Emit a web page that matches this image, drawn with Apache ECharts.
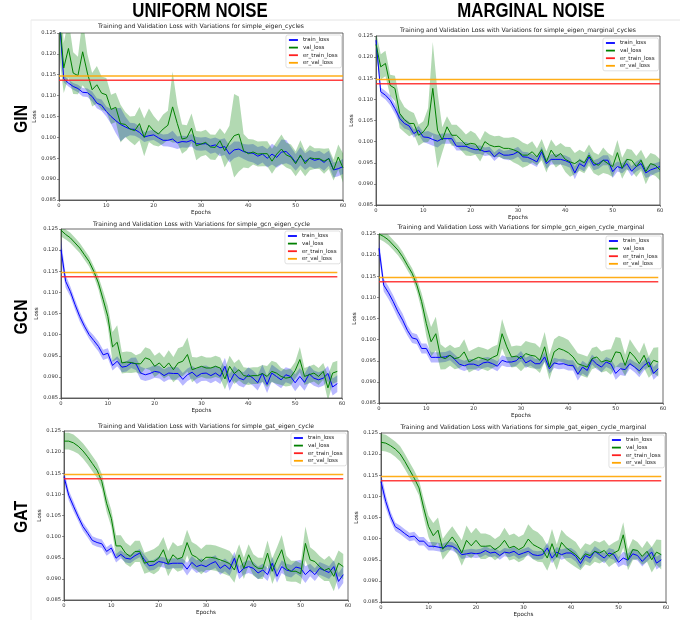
<!DOCTYPE html>
<html>
<head>
<meta charset="utf-8">
<script src="https://cdn.jsdelivr.net/npm/echarts@6/dist/echarts.min.js"></script>
<style>html,body{margin:0;background:#fff}#c{width:688px;height:620px}</style>
</head>
<body>
<div id="c"></div>
<script>
// ---------- data (mean loss and std band per epoch) ----------
const gin_uni_train = [
  0.1300, 0.1140, 0.1130, 0.1122, 0.1117, 0.1108, 0.1107, 0.1098, 0.1082, 0.1077,
  0.1062, 0.1050, 0.1040, 0.1031, 0.1025, 0.1020, 0.1019, 0.1012, 0.1001, 0.1004,
  0.1006, 0.0999, 0.0993, 0.0993, 0.0996, 0.0987, 0.0990, 0.0989, 0.0993, 0.0985,
  0.0984, 0.0985, 0.0979, 0.0982, 0.0975, 0.0978, 0.0960, 0.0970, 0.0972, 0.0966,
  0.0963, 0.0962, 0.0955, 0.0960, 0.0950, 0.0960, 0.0952, 0.0965, 0.0966, 0.0955,
  0.0940, 0.0955, 0.0942, 0.0950, 0.0945, 0.0948, 0.0940, 0.0950, 0.0922, 0.0925,
  0.0930];
const gin_uni_train_sd = [
  0.0030, 0.0008, 0.0008, 0.0008, 0.0009, 0.0010, 0.0010, 0.0012, 0.0012, 0.0014,
  0.0012, 0.0018, 0.0030, 0.0040, 0.0025, 0.0015, 0.0015, 0.0014, 0.0012, 0.0012,
  0.0012, 0.0012, 0.0014, 0.0015, 0.0020, 0.0015, 0.0014, 0.0014, 0.0015, 0.0016,
  0.0016, 0.0016, 0.0018, 0.0018, 0.0020, 0.0020, 0.0020, 0.0020, 0.0018, 0.0018,
  0.0020, 0.0022, 0.0022, 0.0020, 0.0022, 0.0025, 0.0025, 0.0030, 0.0028, 0.0022,
  0.0020, 0.0022, 0.0020, 0.0020, 0.0020, 0.0020, 0.0020, 0.0018, 0.0018, 0.0018,
  0.0018];
const gin_uni_val = [
  0.1300, 0.1166, 0.1213, 0.1154, 0.1148, 0.1205, 0.1154, 0.1114, 0.1126, 0.1106,
  0.1102, 0.1067, 0.1072, 0.1033, 0.1031, 0.1020, 0.1016, 0.1033, 0.1000, 0.1029,
  0.1016, 0.1008, 0.1020, 0.1029, 0.1073, 0.1033, 0.0996, 0.0999, 0.1022, 0.0980,
  0.0984, 0.0988, 0.0977, 0.0976, 0.0992, 0.0968, 0.0988, 0.1004, 0.1008, 0.0968,
  0.0961, 0.0965, 0.0960, 0.0961, 0.0961, 0.0943, 0.0960, 0.0972, 0.0958, 0.0953,
  0.0937, 0.0958, 0.0937, 0.0951, 0.0949, 0.0949, 0.0943, 0.0949, 0.0922, 0.0953,
  0.0927];
const gin_uni_val_sd = [
  0.0100, 0.0060, 0.0070, 0.0050, 0.0045, 0.0080, 0.0045, 0.0040, 0.0045, 0.0040,
  0.0040, 0.0035, 0.0035, 0.0045, 0.0030, 0.0030, 0.0035, 0.0040, 0.0045, 0.0040,
  0.0035, 0.0030, 0.0035, 0.0035, 0.0085, 0.0045, 0.0035, 0.0030, 0.0035, 0.0035,
  0.0030, 0.0030, 0.0030, 0.0030, 0.0030, 0.0040, 0.0040, 0.0100, 0.0090, 0.0040,
  0.0035, 0.0030, 0.0030, 0.0030, 0.0030, 0.0030, 0.0030, 0.0035, 0.0030, 0.0030,
  0.0030, 0.0035, 0.0030, 0.0030, 0.0025, 0.0025, 0.0030, 0.0025, 0.0025, 0.0030,
  0.0035];

const gin_mar_train = [
  0.1240, 0.1118, 0.1110, 0.1098, 0.1078, 0.1055, 0.1043, 0.1037, 0.1019, 0.1027,
  0.1011, 0.1010, 0.1005, 0.1001, 0.1007, 0.1007, 0.1007, 0.0989, 0.0989, 0.0989,
  0.0984, 0.0981, 0.0981, 0.0976, 0.0978, 0.0964, 0.0974, 0.0968, 0.0968, 0.0970,
  0.0976, 0.0964, 0.0963, 0.0958, 0.0952, 0.0976, 0.0948, 0.0958, 0.0958, 0.0958,
  0.0955, 0.0950, 0.0926, 0.0948, 0.0941, 0.0964, 0.0944, 0.0948, 0.0956, 0.0956,
  0.0929, 0.0941, 0.0937, 0.0948, 0.0930, 0.0941, 0.0948, 0.0926, 0.0933, 0.0937,
  0.0941];
const gin_mar_train_sd = [
  0.0015, 0.0010, 0.0010, 0.0012, 0.0012, 0.0012, 0.0012, 0.0010, 0.0010, 0.0010,
  0.0012, 0.0015, 0.0015, 0.0015, 0.0012, 0.0012, 0.0012, 0.0010, 0.0010, 0.0010,
  0.0010, 0.0010, 0.0010, 0.0010, 0.0010, 0.0010, 0.0010, 0.0010, 0.0012, 0.0012,
  0.0012, 0.0012, 0.0012, 0.0012, 0.0012, 0.0012, 0.0012, 0.0012, 0.0012, 0.0012,
  0.0012, 0.0012, 0.0015, 0.0012, 0.0012, 0.0012, 0.0012, 0.0012, 0.0012, 0.0012,
  0.0015, 0.0012, 0.0012, 0.0012, 0.0012, 0.0012, 0.0012, 0.0012, 0.0015, 0.0012,
  0.0012];
const gin_mar_val = [
  0.1230, 0.1177, 0.1185, 0.1133, 0.1126, 0.1067, 0.1052, 0.1043, 0.1043, 0.1015,
  0.1023, 0.1039, 0.1126, 0.1027, 0.1004, 0.1035, 0.1015, 0.1015, 0.1004, 0.0992,
  0.0996, 0.0994, 0.0978, 0.1000, 0.0992, 0.0988, 0.0989, 0.0984, 0.0984, 0.0981,
  0.0976, 0.0968, 0.0968, 0.0976, 0.0964, 0.0981, 0.0952, 0.0980, 0.0964, 0.0972,
  0.0958, 0.0952, 0.0948, 0.0956, 0.0950, 0.0968, 0.0950, 0.0944, 0.0956, 0.0948,
  0.0941, 0.0974, 0.0937, 0.0958, 0.0956, 0.0941, 0.0956, 0.0929, 0.0948, 0.0944,
  0.0933];
const gin_mar_val_sd = [
  0.0030, 0.0030, 0.0030, 0.0025, 0.0030, 0.0035, 0.0030, 0.0030, 0.0025, 0.0025,
  0.0025, 0.0040, 0.0110, 0.0090, 0.0030, 0.0025, 0.0025, 0.0025, 0.0025, 0.0025,
  0.0030, 0.0025, 0.0025, 0.0025, 0.0025, 0.0025, 0.0025, 0.0025, 0.0025, 0.0030,
  0.0030, 0.0030, 0.0025, 0.0025, 0.0020, 0.0025, 0.0025, 0.0025, 0.0025, 0.0025,
  0.0030, 0.0035, 0.0025, 0.0025, 0.0025, 0.0025, 0.0025, 0.0025, 0.0030, 0.0025,
  0.0025, 0.0030, 0.0025, 0.0025, 0.0025, 0.0025, 0.0025, 0.0030, 0.0025, 0.0025,
  0.0025];

const gcn_uni_train = [
  0.1201, 0.1126, 0.1102, 0.1071, 0.1043, 0.1020, 0.1000, 0.0986, 0.0972, 0.0952,
  0.0956, 0.0927, 0.0937, 0.0923, 0.0925, 0.0933, 0.0931, 0.0909, 0.0905, 0.0908,
  0.0913, 0.0911, 0.0903, 0.0909, 0.0908, 0.0908, 0.0894, 0.0905, 0.0911, 0.0901,
  0.0908, 0.0909, 0.0903, 0.0909, 0.0901, 0.0925, 0.0887, 0.0908, 0.0897, 0.0893,
  0.0905, 0.0897, 0.0886, 0.0909, 0.0882, 0.0909, 0.0901, 0.0893, 0.0905, 0.0901,
  0.0886, 0.0901, 0.0887, 0.0907, 0.0897, 0.0893, 0.0897, 0.0908, 0.0876, 0.0884];
const gcn_uni_train_sd = [
  0.0025, 0.0015, 0.0012, 0.0012, 0.0012, 0.0010, 0.0010, 0.0012, 0.0012, 0.0012,
  0.0012, 0.0012, 0.0012, 0.0012, 0.0012, 0.0012, 0.0015, 0.0015, 0.0015, 0.0015,
  0.0015, 0.0015, 0.0015, 0.0015, 0.0015, 0.0015, 0.0015, 0.0015, 0.0015, 0.0018,
  0.0018, 0.0018, 0.0018, 0.0018, 0.0018, 0.0020, 0.0020, 0.0018, 0.0018, 0.0018,
  0.0018, 0.0018, 0.0018, 0.0020, 0.0020, 0.0020, 0.0020, 0.0020, 0.0018, 0.0018,
  0.0020, 0.0020, 0.0020, 0.0020, 0.0018, 0.0018, 0.0018, 0.0018, 0.0020, 0.0020];
const gcn_uni_val = [
  0.1247, 0.1237, 0.1229, 0.1217, 0.1205, 0.1189, 0.1173, 0.1150, 0.1122, 0.1083,
  0.1043, 0.0971, 0.0982, 0.0933, 0.0935, 0.0934, 0.0931, 0.0931, 0.0945, 0.0941,
  0.0925, 0.0933, 0.0921, 0.0933, 0.0917, 0.0933, 0.0937, 0.0953, 0.0917, 0.0921,
  0.0925, 0.0921, 0.0921, 0.0925, 0.0921, 0.0895, 0.0925, 0.0908, 0.0917, 0.0903,
  0.0901, 0.0903, 0.0903, 0.0908, 0.0901, 0.0913, 0.0909, 0.0901, 0.0897, 0.0899,
  0.0915, 0.0941, 0.0901, 0.0905, 0.0909, 0.0901, 0.0913, 0.0874, 0.0909, 0.0913];
const gcn_uni_val_sd = [
  0.0015, 0.0012, 0.0012, 0.0012, 0.0012, 0.0012, 0.0012, 0.0012, 0.0015, 0.0020,
  0.0025, 0.0035, 0.0040, 0.0025, 0.0025, 0.0025, 0.0020, 0.0025, 0.0025, 0.0025,
  0.0025, 0.0025, 0.0025, 0.0030, 0.0030, 0.0035, 0.0035, 0.0040, 0.0030, 0.0025,
  0.0025, 0.0025, 0.0025, 0.0025, 0.0025, 0.0025, 0.0025, 0.0025, 0.0025, 0.0020,
  0.0020, 0.0020, 0.0020, 0.0020, 0.0025, 0.0025, 0.0025, 0.0020, 0.0020, 0.0020,
  0.0020, 0.0030, 0.0020, 0.0020, 0.0020, 0.0020, 0.0020, 0.0030, 0.0025, 0.0025];

const gcn_mar_train = [
  0.1216, 0.1129, 0.1111, 0.1090, 0.1066, 0.1046, 0.1022, 0.1004, 0.1001, 0.0979,
  0.0979, 0.0958, 0.0958, 0.0958, 0.0959, 0.0963, 0.0953, 0.0942, 0.0938, 0.0942,
  0.0942, 0.0938, 0.0945, 0.0947, 0.0943, 0.0937, 0.0951, 0.0947, 0.0947, 0.0950,
  0.0961, 0.0945, 0.0951, 0.0943, 0.0943, 0.0959, 0.0931, 0.0945, 0.0942, 0.0943,
  0.0939, 0.0939, 0.0918, 0.0935, 0.0927, 0.0953, 0.0942, 0.0935, 0.0947, 0.0942,
  0.0920, 0.0931, 0.0929, 0.0943, 0.0935, 0.0926, 0.0939, 0.0947, 0.0920, 0.0931];
const gcn_mar_train_sd = [
  0.0020, 0.0015, 0.0015, 0.0015, 0.0015, 0.0015, 0.0012, 0.0012, 0.0012, 0.0012,
  0.0012, 0.0012, 0.0012, 0.0012, 0.0012, 0.0012, 0.0012, 0.0012, 0.0012, 0.0012,
  0.0012, 0.0012, 0.0012, 0.0012, 0.0012, 0.0012, 0.0012, 0.0012, 0.0012, 0.0012,
  0.0012, 0.0012, 0.0012, 0.0012, 0.0012, 0.0012, 0.0012, 0.0012, 0.0012, 0.0012,
  0.0012, 0.0012, 0.0015, 0.0015, 0.0015, 0.0012, 0.0012, 0.0012, 0.0012, 0.0012,
  0.0015, 0.0015, 0.0015, 0.0012, 0.0012, 0.0015, 0.0012, 0.0012, 0.0015, 0.0015];
const gcn_mar_val = [
  0.1250, 0.1244, 0.1236, 0.1224, 0.1212, 0.1196, 0.1176, 0.1157, 0.1129, 0.1090,
  0.1038, 0.0995, 0.1014, 0.0959, 0.0955, 0.0963, 0.0955, 0.0958, 0.0971, 0.0947,
  0.0953, 0.0958, 0.0955, 0.0951, 0.0958, 0.0963, 0.1014, 0.0983, 0.0959, 0.0961,
  0.0955, 0.0967, 0.0963, 0.0961, 0.0951, 0.0983, 0.0935, 0.0971, 0.0979, 0.0975,
  0.0969, 0.0959, 0.0943, 0.0939, 0.0935, 0.0955, 0.0959, 0.0947, 0.0951, 0.0947,
  0.0971, 0.0969, 0.0939, 0.0971, 0.0959, 0.0943, 0.0963, 0.0935, 0.0951, 0.0947];
const gcn_mar_val_sd = [
  0.0012, 0.0012, 0.0012, 0.0012, 0.0012, 0.0012, 0.0012, 0.0012, 0.0015, 0.0020,
  0.0030, 0.0035, 0.0040, 0.0030, 0.0025, 0.0025, 0.0025, 0.0025, 0.0030, 0.0025,
  0.0025, 0.0025, 0.0025, 0.0025, 0.0025, 0.0025, 0.0035, 0.0030, 0.0025, 0.0025,
  0.0030, 0.0030, 0.0030, 0.0030, 0.0030, 0.0035, 0.0030, 0.0030, 0.0030, 0.0030,
  0.0030, 0.0025, 0.0025, 0.0025, 0.0025, 0.0025, 0.0025, 0.0025, 0.0025, 0.0030,
  0.0035, 0.0035, 0.0025, 0.0030, 0.0025, 0.0025, 0.0030, 0.0025, 0.0030, 0.0035];

const gat_uni_train = [
  0.1142, 0.1098, 0.1072, 0.1047, 0.1024, 0.1008, 0.0991, 0.0986, 0.0983, 0.0965,
  0.0973, 0.0949, 0.0958, 0.0949, 0.0947, 0.0955, 0.0961, 0.0945, 0.0931, 0.0933,
  0.0941, 0.0939, 0.0935, 0.0937, 0.0937, 0.0937, 0.0923, 0.0939, 0.0929, 0.0933,
  0.0929, 0.0936, 0.0941, 0.0925, 0.0933, 0.0923, 0.0949, 0.0914, 0.0925, 0.0929,
  0.0925, 0.0914, 0.0921, 0.0910, 0.0937, 0.0906, 0.0929, 0.0921, 0.0918, 0.0928,
  0.0925, 0.0910, 0.0921, 0.0910, 0.0925, 0.0920, 0.0915, 0.0929, 0.0894, 0.0910];
const gat_uni_train_sd = [
  0.0015, 0.0012, 0.0012, 0.0010, 0.0010, 0.0010, 0.0010, 0.0010, 0.0010, 0.0010,
  0.0010, 0.0010, 0.0010, 0.0010, 0.0010, 0.0010, 0.0010, 0.0012, 0.0012, 0.0012,
  0.0012, 0.0012, 0.0012, 0.0012, 0.0012, 0.0012, 0.0015, 0.0015, 0.0015, 0.0015,
  0.0015, 0.0015, 0.0015, 0.0015, 0.0015, 0.0015, 0.0015, 0.0015, 0.0015, 0.0015,
  0.0015, 0.0015, 0.0015, 0.0015, 0.0015, 0.0015, 0.0015, 0.0015, 0.0015, 0.0015,
  0.0020, 0.0020, 0.0015, 0.0015, 0.0015, 0.0015, 0.0015, 0.0015, 0.0020, 0.0020];
const gat_uni_val = [
  0.1226, 0.1226, 0.1222, 0.1214, 0.1203, 0.1189, 0.1173, 0.1157, 0.1130, 0.1079,
  0.1043, 0.0978, 0.0978, 0.0961, 0.0953, 0.0965, 0.0965, 0.0937, 0.0941, 0.0941,
  0.0949, 0.0969, 0.0936, 0.0957, 0.0947, 0.0951, 0.0986, 0.0957, 0.0951, 0.0941,
  0.0951, 0.0951, 0.0949, 0.0945, 0.0941, 0.0936, 0.0921, 0.0957, 0.0925, 0.0957,
  0.0933, 0.0925, 0.0925, 0.0961, 0.0918, 0.0945, 0.0969, 0.0925, 0.0918, 0.0918,
  0.0912, 0.0984, 0.0945, 0.0941, 0.0929, 0.0920, 0.0925, 0.0906, 0.0937, 0.0929];
const gat_uni_val_sd = [
  0.0020, 0.0020, 0.0020, 0.0018, 0.0018, 0.0018, 0.0018, 0.0018, 0.0018, 0.0020,
  0.0020, 0.0025, 0.0025, 0.0025, 0.0025, 0.0025, 0.0025, 0.0025, 0.0025, 0.0030,
  0.0030, 0.0030, 0.0030, 0.0030, 0.0030, 0.0030, 0.0030, 0.0030, 0.0030, 0.0030,
  0.0030, 0.0030, 0.0030, 0.0030, 0.0030, 0.0030, 0.0030, 0.0025, 0.0025, 0.0025,
  0.0025, 0.0025, 0.0025, 0.0030, 0.0030, 0.0030, 0.0035, 0.0030, 0.0025, 0.0025,
  0.0025, 0.0040, 0.0030, 0.0025, 0.0025, 0.0025, 0.0030, 0.0035, 0.0030, 0.0030];

const gat_mar_train = [
  0.1135, 0.1088, 0.1053, 0.1028, 0.1021, 0.1012, 0.1004, 0.1006, 0.0994, 0.0994,
  0.0982, 0.0982, 0.0980, 0.0978, 0.0983, 0.0982, 0.0975, 0.0962, 0.0964, 0.0966,
  0.0964, 0.0966, 0.0972, 0.0966, 0.0968, 0.0960, 0.0968, 0.0966, 0.0970, 0.0962,
  0.0966, 0.0970, 0.0962, 0.0960, 0.0962, 0.0978, 0.0954, 0.0968, 0.0962, 0.0966,
  0.0966, 0.0958, 0.0941, 0.0960, 0.0954, 0.0970, 0.0962, 0.0954, 0.0966, 0.0962,
  0.0944, 0.0954, 0.0949, 0.0964, 0.0960, 0.0946, 0.0958, 0.0968, 0.0942, 0.0950];
const gat_mar_train_sd = [
  0.0020, 0.0015, 0.0012, 0.0010, 0.0010, 0.0010, 0.0010, 0.0010, 0.0010, 0.0010,
  0.0010, 0.0010, 0.0010, 0.0010, 0.0010, 0.0010, 0.0010, 0.0010, 0.0010, 0.0010,
  0.0010, 0.0010, 0.0010, 0.0010, 0.0010, 0.0010, 0.0010, 0.0010, 0.0010, 0.0010,
  0.0010, 0.0010, 0.0010, 0.0010, 0.0010, 0.0012, 0.0012, 0.0012, 0.0012, 0.0012,
  0.0012, 0.0012, 0.0012, 0.0012, 0.0012, 0.0012, 0.0012, 0.0012, 0.0012, 0.0012,
  0.0012, 0.0015, 0.0015, 0.0012, 0.0012, 0.0012, 0.0012, 0.0012, 0.0015, 0.0015];
const gat_mar_val = [
  0.1228, 0.1226, 0.1220, 0.1212, 0.1201, 0.1183, 0.1163, 0.1143, 0.1120, 0.1072,
  0.1029, 0.1007, 0.1020, 0.0975, 0.0990, 0.1004, 0.0988, 0.0966, 0.0996, 0.0983,
  0.0996, 0.0982, 0.0982, 0.0983, 0.0974, 0.0982, 0.0996, 0.0978, 0.0982, 0.0974,
  0.0980, 0.0999, 0.0986, 0.0980, 0.0974, 0.0954, 0.0988, 0.0956, 0.0991, 0.0978,
  0.0970, 0.0962, 0.0950, 0.0964, 0.0960, 0.0970, 0.0966, 0.0972, 0.0958, 0.0966,
  0.0972, 0.1009, 0.0950, 0.0974, 0.0972, 0.0958, 0.0970, 0.0950, 0.0968, 0.0962];
const gat_mar_val_sd = [
  0.0020, 0.0020, 0.0018, 0.0018, 0.0018, 0.0018, 0.0018, 0.0018, 0.0018, 0.0022,
  0.0025, 0.0030, 0.0030, 0.0025, 0.0025, 0.0025, 0.0025, 0.0030, 0.0035, 0.0030,
  0.0030, 0.0030, 0.0030, 0.0025, 0.0025, 0.0025, 0.0030, 0.0030, 0.0030, 0.0030,
  0.0030, 0.0035, 0.0035, 0.0035, 0.0030, 0.0030, 0.0035, 0.0030, 0.0030, 0.0030,
  0.0030, 0.0030, 0.0025, 0.0025, 0.0025, 0.0025, 0.0025, 0.0025, 0.0025, 0.0025,
  0.0025, 0.0030, 0.0025, 0.0025, 0.0020, 0.0020, 0.0025, 0.0030, 0.0030, 0.0035];

// er baselines, same in every panel
const er_train_loss = [0.1137, 0.1137, 0.1137, 0.1137, 0.1137, 0.1137];
const er_val_loss   = [0.1147, 0.1147, 0.1147, 0.1147, 0.1147, 0.1147];

const titles = [
  "Training and Validation Loss with Variations for simple_eigen_cycles",
  "Training and Validation Loss with Variations for simple_eigen_marginal_cycles",
  "Training and Validation Loss with Variations for simple_gcn_eigen_cycle",
  "Training and Validation Loss with Variations for simple_gcn_eigen_cycle_marginal",
  "Training and Validation Loss with Variations for simple_gat_eigen_cycle",
  "Training and Validation Loss with Variations for simple_gat_eigen_cycle_marginal",
];
const colHeaders = ["UNIFORM NOISE", "MARGINAL NOISE"];
const rowHeaders = ["GIN", "GCN", "GAT"];
const yTicks = { min: 0.085, max: 0.125, step: 0.005 };

// ---------- layout ----------
const W = 688, H = 620;
const panels = [
  { train: gin_uni_train, trainSd: gin_uni_train_sd, val: gin_uni_val, valSd: gin_uni_val_sd, box: [59, 33, 284, 167], titleY: 26 },
  { train: gin_mar_train, trainSd: gin_mar_train_sd, val: gin_mar_val, valSd: gin_mar_val_sd, box: [376, 36, 284, 169], titleY: 30 },
  { train: gcn_uni_train, trainSd: gcn_uni_train_sd, val: gcn_uni_val, valSd: gcn_uni_val_sd, box: [61, 229, 281, 169], titleY: 224 },
  { train: gcn_mar_train, trainSd: gcn_mar_train_sd, val: gcn_mar_val, valSd: gcn_mar_val_sd, box: [379, 234, 284, 169], titleY: 227 },
  { train: gat_uni_train, trainSd: gat_uni_train_sd, val: gat_uni_val, valSd: gat_uni_val_sd, box: [64, 431, 284, 169], titleY: 426 },
  { train: gat_mar_train, trainSd: gat_mar_train_sd, val: gat_mar_val, valSd: gat_mar_val_sd, box: [381, 433, 285, 169], titleY: 427 },
];

const FONT = "DejaVu Sans";
const BLUE = "#0000ff", GREEN = "#008000", RED = "#ff2020", ORANGE = "#ffa500";

const grids = [], xAxes = [], yAxes = [], legends = [], series = [], graphics = [];

panels.forEach((p, i) => {
  const [l, t, w, h] = p.box;
  grids.push({ left: l, top: t, width: w, height: h, show: true, borderColor: "#444", borderWidth: 0.8,
    backgroundColor: "transparent", containLabel: false, outerBoundsMode: "none" });
  xAxes.push({
    gridIndex: i, type: "value", min: 0, max: 60, interval: 10,
    name: "Epochs", nameLocation: "middle", nameGap: 10,
    nameTextStyle: { fontSize: 5.6, color: "#222", fontFamily: FONT },
    axisLine: { show: true, onZero: false, lineStyle: { color: "#444", width: 0.8 } },
    axisTick: { show: true, length: 2, lineStyle: { color: "#444", width: 0.6 } },
    axisLabel: { fontSize: 5.2, color: "#333", margin: 3, fontFamily: FONT },
    splitLine: { show: false },
  });
  yAxes.push({
    gridIndex: i, type: "value", min: yTicks.min, max: yTicks.max, interval: yTicks.step,
    name: "Loss", nameLocation: "middle", nameGap: 21, nameRotate: 90,
    nameTextStyle: { fontSize: 5.6, color: "#222", fontFamily: FONT },
    axisLine: { show: true, onZero: false, lineStyle: { color: "#444", width: 0.8 } },
    axisTick: { show: true, length: 2, lineStyle: { color: "#444", width: 0.6 } },
    axisLabel: { fontSize: 5.2, color: "#333", margin: 3, fontFamily: FONT, formatter: v => v.toFixed(3) },
    splitLine: { show: false },
  });
  legends.push({
    data: ["train_loss", "val_loss", "er_train_loss", "er_val_loss"],
    orient: "vertical", right: W - (l + w) + 1.5, top: t + 2,
    icon: "rect", itemWidth: 9, itemHeight: 1.8, itemGap: 1.6,
    textStyle: { fontSize: 5.5, color: "#222", fontFamily: FONT, lineHeight: 6 },
    padding: [2, 4, 2, 3], borderColor: "#ccc", borderWidth: 0.6, borderRadius: 2,
    backgroundColor: "rgba(255,255,255,0.85)", selectedMode: false,
  });
  graphics.push({
    type: "text", x: l + w / 2, y: p.titleY, silent: true,
    style: { text: titles[i], fill: "#222", font: `6.1px "${FONT}"`, align: "center", verticalAlign: "middle",
      textAlign: "center", textVerticalAlign: "middle" },
  });

  const ep = p.train.map((_, k) => k);
  // mean ± std band, drawn as one polygon through the axis coordinates
  const band = (mean, sd, color) => ({
    type: "custom", xAxisIndex: i, yAxisIndex: i, silent: true, clip: true,
    data: ep.map(e => [e, mean[e] - sd[e], mean[e] + sd[e]]),
    encode: { x: 0, y: [1, 2] },
    renderItem: (params, api) => {
      if (params.dataIndex !== 0) return null;
      const upper = ep.map(e => api.coord([e, mean[e] + sd[e]]));
      const lower = ep.map(e => api.coord([e, mean[e] - sd[e]])).reverse();
      const cs = params.coordSys;
      return {
        type: "polygon", shape: { points: upper.concat(lower) }, style: { fill: color },
        clipPath: { type: "rect", shape: { x: cs.x, y: cs.y, width: cs.width, height: cs.height } },
      };
    },
  });
  const line = (name, vals, color, width, opacity) => ({
    name, type: "line", xAxisIndex: i, yAxisIndex: i, symbol: "none", silent: true,
    data: ep.map(e => [e, vals[e]]), color,
    itemStyle: { color }, lineStyle: { color, width, opacity },
  });
  series.push(band(p.train, p.trainSd, "rgba(0,0,255,0.28)"));
  series.push(line("train_loss", p.train, BLUE, 1, 1));
  series.push(band(p.val, p.valSd, "rgba(0,128,0,0.3)"));
  series.push(line("val_loss", p.val, GREEN, 1, 1));
  series.push(line("er_train_loss", ep.map(() => er_train_loss[i]), RED, 1.4, 0.85));
  series.push(line("er_val_loss", ep.map(() => er_val_loss[i]), ORANGE, 1.5, 0.9));
});

// column and row headers, faint frame of the original collage
graphics.push(
  { type: "line", silent: true, shape: { x1: 31, y1: 20, x2: 680, y2: 20 }, style: { stroke: "#e4e4e4", lineWidth: 1 } },
  { type: "line", silent: true, shape: { x1: 31, y1: 20, x2: 31, y2: 620 }, style: { stroke: "#eeeeee", lineWidth: 1 } },
);
[200, 531].forEach((cx, k) => graphics.push({
  type: "text", x: cx, y: 11, scaleX: 0.8, silent: true,
  style: { text: colHeaders[k], fill: "#000", font: 'bold 21px "Liberation Sans"', align: "center", verticalAlign: "middle",
    textAlign: "center", textVerticalAlign: "middle" },
}));
[119, 317, 517].forEach((cy, k) => graphics.push({
  type: "text", x: 22, y: cy, rotation: Math.PI / 2, scaleX: 0.83, silent: true,
  style: { text: rowHeaders[k], fill: "#000", font: 'bold 19px "Liberation Sans"', align: "center", verticalAlign: "middle",
    textAlign: "center", textVerticalAlign: "middle" },
}));

const chart = echarts.init(document.getElementById("c"), null, { renderer: "canvas", width: W, height: H });
chart.setOption({
  animation: false,
  backgroundColor: "#fff",
  textStyle: { fontFamily: FONT },
  grid: grids, xAxis: xAxes, yAxis: yAxes, legend: legends, series, graphic: graphics,
});
</script>
</body>
</html>
